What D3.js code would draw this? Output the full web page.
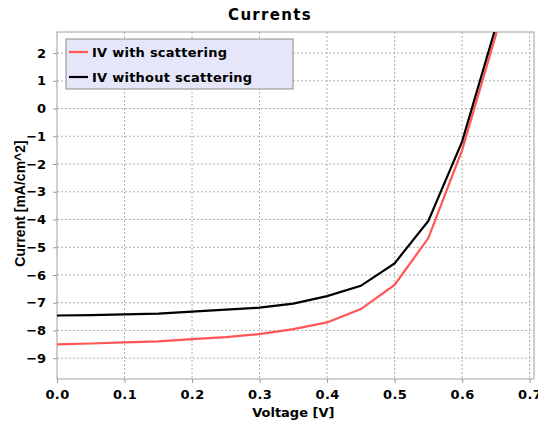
<!DOCTYPE html>
<html>
<head>
<meta charset="utf-8">
<script src="https://cdn.jsdelivr.net/npm/d3@7"></script>
<style>
  body { margin: 0; background: #fff; }
  text { font-family: "DejaVu Sans", sans-serif; font-weight: bold; }
</style>
</head>
<body>
<script>
// voltage steps and the two IV curves
let voltage = [0.0, 0.05, 0.1, 0.15, 0.2, 0.25, 0.3, 0.35, 0.4, 0.45, 0.5, 0.55, 0.6, 0.65, 0.7];
let withScattering = [-8.50, -8.47, -8.43, -8.39, -8.31, -8.24, -8.13, -7.95, -7.71, -7.23, -6.36, -4.67, -1.50, 2.65, 8.0];
let withoutScattering = [-7.46, -7.45, -7.42, -7.39, -7.32, -7.25, -7.18, -7.03, -6.76, -6.39, -5.58, -4.05, -1.19, 2.95, 8.5];
let xTicks = [0.0, 0.1, 0.2, 0.3, 0.4, 0.5, 0.6, 0.7];
let yTicks = [2, 1, 0, -1, -2, -3, -4, -5, -6, -7, -8, -9];
let seriesNames = ["IV with scattering", "IV without scattering"];
let seriesColors = ["#ff5555", "#000000"];

let width = 538, height = 423;
let margin = { top: 32, right: 4, bottom: 44, left: 57 };
let plotW = width - margin.left - margin.right;
let plotH = height - margin.top - margin.bottom;

let x = d3.scaleLinear().domain([0, 0.7065]).range([0, plotW]);
let y = d3.scaleLinear().domain([-9.75, 2.76]).range([plotH, 0]);

let svg = d3.select("body").append("svg")
    .attr("width", width)
    .attr("height", height);

svg.append("text")
    .attr("x", 270).attr("y", 20)
    .attr("text-anchor", "middle")
    .attr("font-size", 15)
    .attr("letter-spacing", 1.3)
    .text("Currents");

let plot = svg.append("g")
    .attr("transform", `translate(${margin.left}, ${margin.top})`);

plot.append("defs").append("clipPath").attr("id", "clip")
    .append("rect").attr("width", plotW).attr("height", plotH);

// grid
plot.selectAll(".vgrid").data(xTicks.slice(1)).enter()
    .append("line")
    .attr("x1", d => x(d)).attr("x2", d => x(d))
    .attr("y1", 0).attr("y2", plotH)
    .attr("stroke", "#b0b0b0").attr("stroke-dasharray", "2,2");
plot.selectAll(".hgrid").data(yTicks).enter()
    .append("line")
    .attr("x1", 0).attr("x2", plotW)
    .attr("y1", d => y(d)).attr("y2", d => y(d))
    .attr("stroke", "#b0b0b0").attr("stroke-dasharray", "2,2");

// axes
let xAxis = d3.axisBottom(x).tickValues(xTicks).tickFormat(d3.format(".1f")).tickSize(4);
let yAxis = d3.axisLeft(y).tickValues(yTicks).tickFormat(d3.format("d")).tickSize(4);

let gx = plot.append("g")
    .attr("transform", `translate(0, ${plotH})`)
    .call(xAxis);
let gy = plot.append("g").call(yAxis);

[gx, gy].forEach(g => {
  g.select(".domain").remove();
  g.selectAll(".tick line").attr("stroke", "#999");
  g.selectAll(".tick text")
    .attr("font-size", 13)
    .attr("fill", "#000");
});
gx.selectAll(".tick text").attr("dy", "1.0em").attr("letter-spacing", 0.4);
gy.selectAll(".tick text").attr("dx", "-0.3em");

plot.append("rect")
    .attr("width", plotW).attr("height", plotH)
    .attr("fill", "none").attr("stroke", "#a0a0a0");

// lines
let line = d3.line().x((d, i) => x(voltage[i])).y(d => y(d));
let lines = plot.append("g").attr("clip-path", "url(#clip)");
[withScattering, withoutScattering].forEach((s, i) => {
  lines.append("path")
    .datum(s)
    .attr("d", line)
    .attr("fill", "none")
    .attr("stroke", seriesColors[i])
    .attr("stroke-width", 2.2);
});

// legend
let legend = plot.append("g").attr("transform", "translate(9, 7)");
legend.append("rect")
    .attr("width", 227).attr("height", 50)
    .attr("fill", "#e6e6fa").attr("stroke", "#8c8c8c");
seriesNames.forEach((name, i) => {
  let row = legend.append("g").attr("transform", `translate(0, ${13 + i * 25})`);
  row.append("line")
    .attr("x1", 3).attr("x2", 22)
    .attr("stroke", seriesColors[i]).attr("stroke-width", 2.2);
  row.append("text")
    .attr("x", 26).attr("dy", "0.36em")
    .attr("font-size", 13)
    .attr("letter-spacing", 0.25)
    .text(name);
});

// axis labels
svg.append("text")
    .attr("x", margin.left + x(0.35)).attr("y", 417)
    .attr("text-anchor", "middle")
    .attr("font-size", 13)
    .text("Voltage [V]");
svg.append("text")
    .attr("transform", `translate(25, ${margin.top + plotH / 2 - 2}) rotate(-90)`)
    .attr("text-anchor", "middle")
    .style("font-family", "'Liberation Sans', Arial, sans-serif")
    .attr("font-size", 14)
    .text("Current [mA/cm^2]");
</script>
</body>
</html>
